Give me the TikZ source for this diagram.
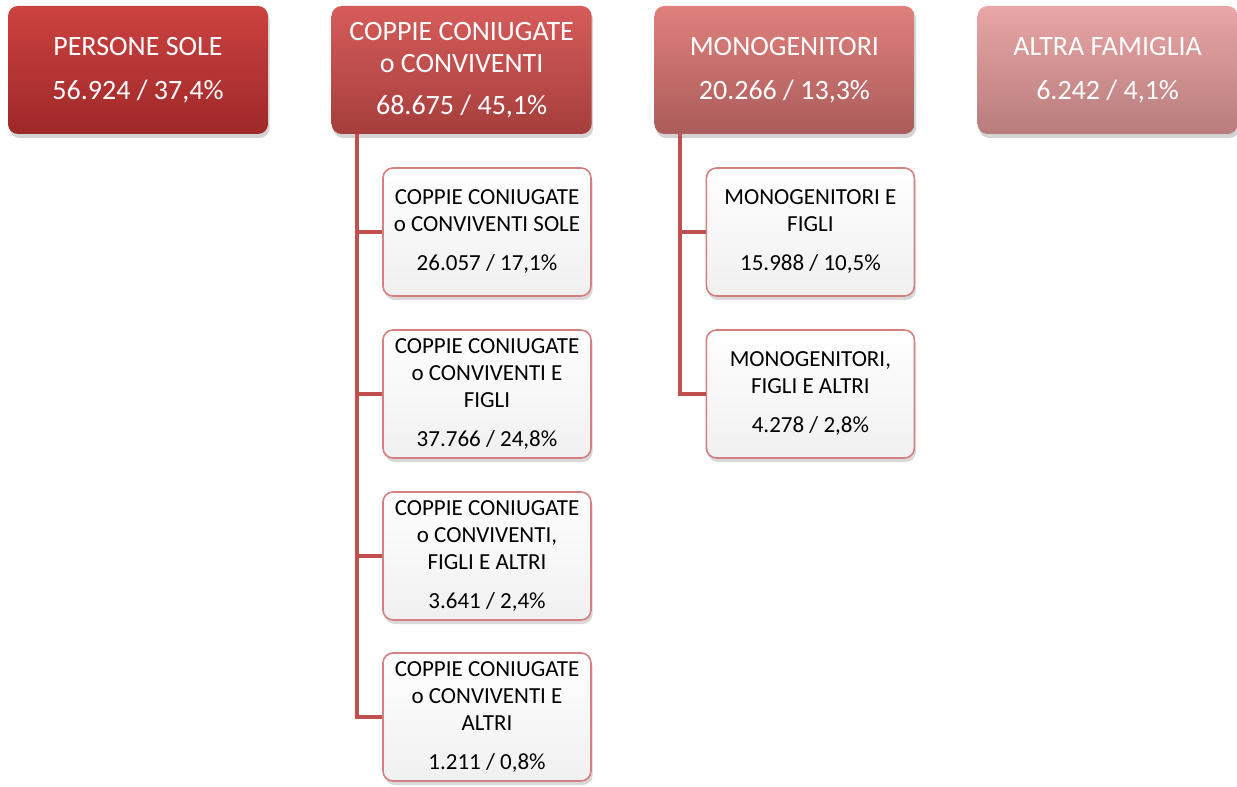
\documentclass[tikz,border=0pt]{standalone}
\usepackage{fontspec}
\setmainfont{Carlito}
\usetikzlibrary{shadows}
\definecolor{linkred}{RGB}{192,80,77}
\definecolor{subedge}{RGB}{212,128,126}
\definecolor{subfill}{RGB}{240,240,240}
\begin{document}
\begin{tikzpicture}[
  topbox/.style={rounded corners=2.5mm, minimum width=65mm, minimum height=32mm, inner sep=0, align=center, text=white, font=\fontsize{7mm}{8mm}\selectfont, drop shadow={opacity=0.35, shadow xshift=0.4mm, shadow yshift=-1mm}},
  subbox/.style={draw=subedge, line width=0.4mm, rounded corners=2.5mm, minimum width=52mm, minimum height=32mm, inner sep=0, align=center, top color=white, bottom color=subfill, font=\fontsize{5.75mm}{6.75mm}\selectfont, drop shadow={opacity=0.3, shadow xshift=0.4mm, shadow yshift=-1mm}},
  link/.style={draw=linkred, line width=1mm}
]
\useasboundingbox (0,0) rectangle (309.25mm,196.5mm);
\node[topbox, top color={rgb,255:red,204;green,66;blue,64}, bottom color={rgb,255:red,158;green,40;blue,40}] (sole) at(34.5mm,179mm) {PERSONE SOLE\\[3mm]56.924 / 37,4\%};
\node[topbox, top color={rgb,255:red,214;green,92;blue,90}, bottom color={rgb,255:red,165;green,62;blue,60}] (coppie) at(115.4mm,179mm) {COPPIE CONIUGATE\\o CONVIVENTI\\[2.5mm]68.675 / 45,1\%};
\node[topbox, top color={rgb,255:red,224;green,128;blue,125}, bottom color={rgb,255:red,170;green,92;blue,90}] (mono) at(196.1mm,179mm) {MONOGENITORI\\[3mm]20.266 / 13,3\%};
\node[topbox, top color={rgb,255:red,232;green,166;blue,165}, bottom color={rgb,255:red,184;green,124;blue,124}] (altra) at(276.9mm,179mm) {ALTRA FAMIGLIA\\[3mm]6.242 / 4,1\%};

\node[subbox] (cs) at(121.75mm,138.5mm) {COPPIE CONIUGATE\\o CONVIVENTI SOLE\\[3mm]26.057 / 17,1\%};
\node[subbox] (cf) at(121.75mm,98mm) {COPPIE CONIUGATE\\o CONVIVENTI E\\FIGLI\\[3mm]37.766 / 24,8\%};
\node[subbox] (cfa) at(121.75mm,57.5mm) {COPPIE CONIUGATE\\o CONVIVENTI,\\FIGLI E ALTRI\\[3mm]3.641 / 2,4\%};
\node[subbox] (ca) at(121.75mm,17.25mm) {COPPIE CONIUGATE\\o CONVIVENTI E\\ALTRI\\[3mm]1.211 / 0,8\%};
\node[subbox] (mf) at(202.6mm,138.5mm) {MONOGENITORI E\\FIGLI\\[3mm]15.988 / 10,5\%};
\node[subbox] (mfa) at(202.6mm,98mm) {MONOGENITORI,\\FIGLI E ALTRI\\[3mm]4.278 / 2,8\%};

\draw[link] ([xshift=6.5mm]coppie.south west) |- (cs.west);
\draw[link] ([xshift=6.5mm]coppie.south west) |- (cf.west);
\draw[link] ([xshift=6.5mm]coppie.south west) |- (cfa.west);
\draw[link] ([xshift=6.5mm]coppie.south west) |- (ca.west);
\draw[link] ([xshift=6.5mm]mono.south west) |- (mf.west);
\draw[link] ([xshift=6.5mm]mono.south west) |- (mfa.west);
\end{tikzpicture}
\end{document}
